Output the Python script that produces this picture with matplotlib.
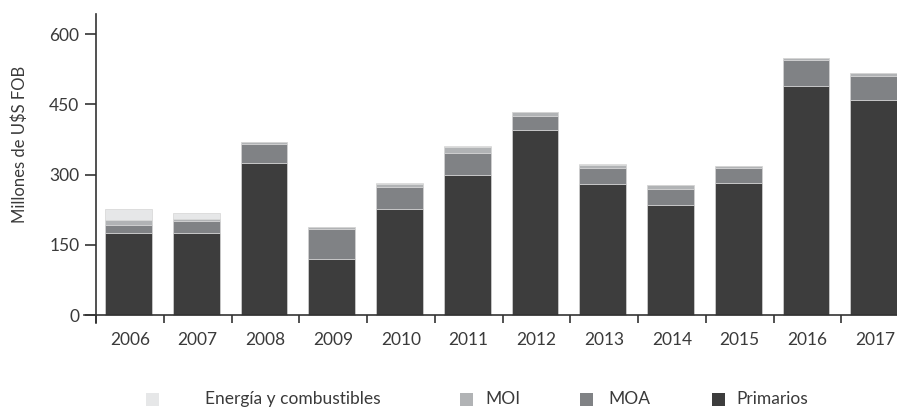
import matplotlib
matplotlib.use("Agg")
import matplotlib.pyplot as plt
from matplotlib.patches import Rectangle
import numpy as np

years = ["2006", "2007", "2008", "2009", "2010", "2011", "2012", "2013", "2014", "2015", "2016", "2017"]
primarios = [175, 175, 325, 119, 226, 299, 396, 280, 236, 283, 490, 460]
moa = [18, 26, 41, 64, 47, 48, 29, 34, 33, 31, 55, 51]
moi = [11, 4, 3, 4, 6, 12, 8, 7, 8, 4, 4, 5]
energia = [23, 12, 1, 2, 2, 1, 0, 1, 1, 0, 0, 0]
series_names = ["Energía y combustibles", "MOI", "MOA", "Primarios"]
yticks = [0, 150, 300, 450, 600]

colors = {"Primarios": "#3d3d3d", "MOA": "#808285", "MOI": "#b1b3b5",
          "Energía y combustibles": "#e6e7e8"}

plt.rcParams['font.family'] = ['Lato', 'DejaVu Sans']
txt_color = "#3a3a3a"
fs = 12.5

W, H = 897, 412
fig = plt.figure(figsize=(W / 100, H / 100), dpi=100)
step = (909 - 96) / 12
left_px = 96 - 12
ax = fig.add_axes([left_px / W, (H - 323) / H, (909 - left_px) / W, 309 / H])

x = np.arange(len(years))
width = 0.69
stack = [("Primarios", primarios), ("MOA", moa), ("MOI", moi), ("Energía y combustibles", energia)]
bottom = np.zeros(len(years))
for name, vals in stack:
    v = np.array(vals, dtype=float)
    ax.bar(x - 0.02, v, width, bottom=bottom, color=colors[name],
           edgecolor="#d4d4d4", linewidth=0.5, zorder=2)
    bottom += v

ax.set_xlim(-0.5 - 12 / step, 11.5)
ax.set_ylim(-17, 643)

for s in ["top", "right"]:
    ax.spines[s].set_visible(False)
ax.spines["left"].set_position(("data", -0.5))
ax.spines["bottom"].set_position(("data", 0))
for s in ["left", "bottom"]:
    ax.spines[s].set_linewidth(1.2)
    ax.spines[s].set_color("#333333")

ax.set_xticks(x)
ax.set_xticklabels(years)
ax.set_xticks(np.arange(-0.5, 12, 1), minor=True)
ax.tick_params(axis="x", which="major", length=0, pad=12, labelsize=fs, labelcolor=txt_color)
ax.tick_params(axis="x", which="minor", length=6, width=1.2, color="#333333", direction="out")

ax.set_yticks(yticks)
ax.set_yticklabels([str(t) for t in yticks])
ax.tick_params(axis="y", length=8, width=1.2, color="#333333", pad=4, labelsize=fs, labelcolor=txt_color)

fig.text(20 / W, 1 - 144 / H, "Millones de U$S FOB", rotation=90, ha="center", va="center",
         fontsize=12, color=txt_color)

# legend
leg_items = [("Energía y combustibles", 146, 205), ("MOI", 460, 485), ("MOA", 580, 608), ("Primarios", 712, 736)]
ly = 399
for name, sx, tx in leg_items:
    fig.patches.append(Rectangle((sx / W, 1 - (ly + 6.5) / H), 13 / W, 13 / H,
                                 transform=fig.transFigure, facecolor=colors[name],
                                 edgecolor="none"))
    fig.text(tx / W, 1 - ly / H, name, ha="left", va="center", fontsize=fs, color=txt_color)

fig.savefig("out.png", dpi=100)
